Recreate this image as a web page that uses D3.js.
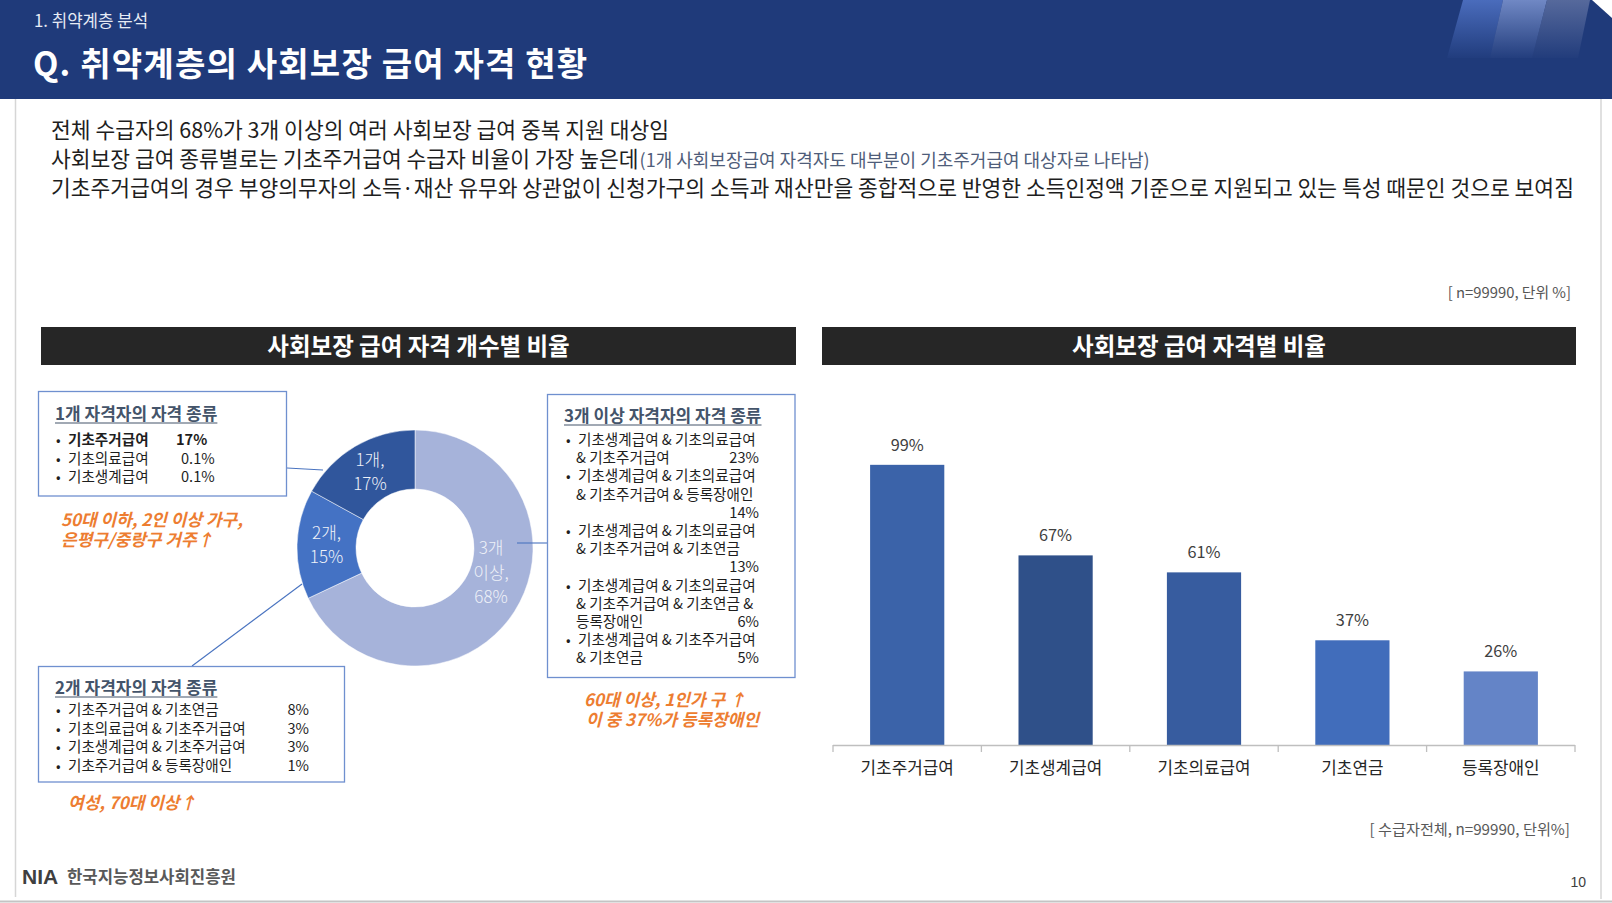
<!DOCTYPE html>
<html><head><meta charset="utf-8">
<script src="https://cdn.jsdelivr.net/npm/d3@7"></script>
<style>
body{margin:0;background:#fff;}
svg{display:block;font-family:"Noto Sans CJK KR","Noto Sans",sans-serif;}
</style></head><body>
<svg id="c" width="1612" height="903"></svg>
<script>
// ---------- data ----------
const donutLabels = ["3개 이상", "2개", "1개"];
const donutValues = [68, 15, 17];
const barCategories = ["기초주거급여", "기초생계급여", "기초의료급여", "기초연금", "등록장애인"];
const barValues = [99, 67, 61, 37, 26];
const oneItems = ["기초주거급여", "기초의료급여", "기초생계급여"];
const oneValues = ["17%", "0.1%", "0.1%"];
const twoItems = ["기초주거급여 & 기초연금", "기초의료급여 & 기초주거급여", "기초생계급여 & 기초주거급여", "기초주거급여 & 등록장애인"];
const twoValues = ["8%", "3%", "3%", "1%"];
const threeItems = [
  ["기초생계급여 & 기초의료급여", "& 기초주거급여"],
  ["기초생계급여 & 기초의료급여", "& 기초주거급여 & 등록장애인"],
  ["기초생계급여 & 기초의료급여", "& 기초주거급여 & 기초연금"],
  ["기초생계급여 & 기초의료급여", "& 기초주거급여 & 기초연금 &", "등록장애인"],
  ["기초생계급여 & 기초주거급여", "& 기초연금"]
];
const threeValues = ["23%", "14%", "13%", "6%", "5%"];
const bodyLines = [
  "전체 수급자의 68%가 3개 이상의 여러 사회보장 급여 중복 지원 대상임",
  "사회보장 급여 종류별로는 기초주거급여 수급자 비율이 가장 높은데",
  "기초주거급여의 경우 부양의무자의 소득·재산 유무와 상관없이 신청가구의 소득과 재산만을 종합적으로 반영한 소득인정액 기준으로 지원되고 있는 특성 때문인 것으로 보여짐"
];
const bodyNote = "(1개 사회보장급여 자격자도 대부분이 기초주거급여 대상자로 나타남)";

const svg = d3.select("#c");
const defs = svg.append("defs");

// ---------- header ----------
svg.append("rect").attr("x",0).attr("y",0).attr("width",1612).attr("height",99).attr("fill","#1f3a7a");
const stripes = [
  {pts:[[1463,0],[1503,0],[1490,58],[1447,58]], c:"#4a6cbc"},
  {pts:[[1503,0],[1547,0],[1532,58],[1490,58]], c:"#7088c4"},
  {pts:[[1547,0],[1590,0],[1578,58],[1532,58]], c:"#56699c"}
];
stripes.forEach((s,i)=>{
  const g = defs.append("linearGradient").attr("id","sg"+i).attr("x1",0).attr("y1",0).attr("x2",0).attr("y2",1);
  g.append("stop").attr("offset","0%").attr("stop-color",s.c).attr("stop-opacity",1);
  g.append("stop").attr("offset","100%").attr("stop-color",s.c).attr("stop-opacity",0.05);
  svg.append("polygon").attr("points",s.pts.map(p=>p.join(",")).join(" ")).attr("fill","url(#sg"+i+")");
});
svg.append("polygon").attr("points","1592,0 1612,0 1612,18").attr("fill","#fff");
svg.append("text").attr("x",34).attr("y",27).attr("fill","#e6ebf5").attr("font-size",16.8).text("1. 취약계층 분석");
svg.append("text").attr("x",33).attr("y",76).attr("fill","#fff").attr("font-size",33).attr("letter-spacing",1.2)
  .attr("font-weight",700).text("Q. 취약계층의 사회보장 급여 자격 현황");

// frame
svg.append("line").attr("x1",15.5).attr("x2",15.5).attr("y1",99).attr("y2",897).attr("stroke","#d6d6d6").attr("stroke-width",1.5);
svg.append("line").attr("x1",1601).attr("x2",1601).attr("y1",99).attr("y2",899).attr("stroke","#d6d6d6").attr("stroke-width",1.5);
svg.append("line").attr("x1",0).attr("x2",1612).attr("y1",901.5).attr("y2",901.5).attr("stroke","#c4c4c4").attr("stroke-width",2);

// ---------- body text ----------
const bodyY = [138, 167, 196];
bodyLines.forEach((t,i)=>{
  const tx = svg.append("text").attr("x",51).attr("y",bodyY[i]).attr("fill","#1e1e1e").attr("font-size",21.5).text(t);
  if(i===1){
    const w = tx.node().getComputedTextLength();
    svg.append("text").attr("x",51+w+1).attr("y",bodyY[i]).attr("fill","#4f5d7a").attr("font-size",18).text(bodyNote);
  }
});
svg.append("text").attr("x",1571).attr("y",298).attr("text-anchor","end").attr("fill","#555").attr("font-size",14.8).text("[ n=99990, 단위 %]");

// section headers
[[41,796,"사회보장 급여 자격 개수별 비율"],[822,1576,"사회보장 급여 자격별 비율"]].forEach(d=>{
  svg.append("rect").attr("x",d[0]).attr("y",327).attr("width",d[1]-d[0]).attr("height",38).attr("fill","#262626");
  svg.append("text").attr("x",(d[0]+d[1])/2).attr("y",355).attr("text-anchor","middle").attr("fill","#fff")
    .attr("font-size",23.5).attr("font-weight",700).text(d[2]);
});

// ---------- donut ----------
const cx = 415, cy = 548, rO = 118, rI = 59;
const donutColors = ["#a6b3da", "#4472c4", "#30569c"];
const pie = d3.pie().sort(null).value(d=>d)(donutValues);
const arc = d3.arc().innerRadius(rI).outerRadius(rO);
const dg = svg.append("g").attr("transform",`translate(${cx},${cy})`);
dg.selectAll("path").data(pie).join("path").attr("d",arc).attr("fill",(d,i)=>donutColors[i])
  .attr("stroke","#fff").attr("stroke-width",0.5);
pie.forEach((p,i)=>{
  let pos;
  if(i===0){ const a = 108*Math.PI/180, r = 80; pos=[r*Math.sin(a), -r*Math.cos(a)]; }
  else pos = arc.centroid(p);
  const parts = donutLabels[i].split(" ").map((w,j,arr)=> j===arr.length-1 ? w+"," : w);
  parts.push(donutValues[i]+"%");
  const lh = 24.3;
  const t = dg.append("text").attr("text-anchor","middle").attr("fill","#eef1f8").attr("font-size",17).attr("font-weight",300);
  parts.forEach((s,j)=>{
    t.append("tspan").attr("x",pos[0]).attr("y",pos[1] + (j-(parts.length-1)/2)*lh + 6).text(s);
  });
});

// connectors
const lc = "#4a74c0";
[[287,468,323,470],[192,666,302,584],[517,543,548,543]].forEach(l=>{
  svg.append("line").attr("x1",l[0]).attr("y1",l[1]).attr("x2",l[2]).attr("y2",l[3]).attr("stroke",lc).attr("stroke-width",1.1);
});

// boxes
function box(x0,y0,x1,y1){
  svg.append("rect").attr("x",x0).attr("y",y0).attr("width",x1-x0).attr("height",y1-y0)
    .attr("fill","#fff").attr("stroke","#6f90cf").attr("stroke-width",1.3);
}
function title(x,y,t){
  const tx = svg.append("text").attr("x",x).attr("y",y).attr("fill","#44546a").attr("font-size",17).attr("font-weight",700).text(t);
  const w = tx.node().getComputedTextLength();
  svg.append("line").attr("x1",x).attr("x2",x+w).attr("y1",y+3).attr("y2",y+3).attr("stroke","#44546a").attr("stroke-width",1.2);
}
const fs = 14.6, txtC = "#1e1e1e";
function bullet(x,y){ svg.append("text").attr("x",x).attr("y",y).attr("fill",txtC).attr("font-size",13.5).text("•"); }

// box 1
box(38.5,391.5,286.5,496);
title(55,420,"1개 자격자의 자격 종류");
oneItems.forEach((t,i)=>{
  const y = 445 + i*18.5, b = i===0 ? 700 : 400;
  bullet(56,y);
  svg.append("text").attr("x",68).attr("y",y).attr("fill",txtC).attr("font-size",fs).attr("font-weight",b).text(t);
  svg.append("text").attr("x", i===0 ? 176 : 181).attr("y",y).attr("fill",txtC).attr("font-size",fs).attr("font-weight",b).text(oneValues[i]);
});

// box 2
box(38.5,666.5,344.5,782);
title(55,694,"2개 자격자의 자격 종류");
twoItems.forEach((t,i)=>{
  const y = 715 + i*18.5;
  bullet(56,y);
  svg.append("text").attr("x",68).attr("y",y).attr("fill",txtC).attr("font-size",fs).text(t);
  svg.append("text").attr("x",309).attr("y",y).attr("text-anchor","end").attr("fill",txtC).attr("font-size",fs).text(twoValues[i]);
});

// box 3
box(547.5,394.5,795,677.5);
title(564,422,"3개 이상 자격자의 자격 종류");
let line = 0;
const lineY = k => 445 + k*18.2;
const valRight = 759;
threeItems.forEach((lines,i)=>{
  bullet(566,lineY(line));
  let lastW = 0;
  lines.forEach((t,j)=>{
    const tx = svg.append("text").attr("x",j===0?578:576).attr("y",lineY(line)).attr("fill",txtC).attr("font-size",fs).text(t);
    lastW = tx.node().getComputedTextLength();
    if(j<lines.length-1) line++;
  });
  const vt = svg.append("text").attr("text-anchor","end").attr("x",valRight).attr("fill",txtC).attr("font-size",fs).text(threeValues[i]);
  const vw = vt.node().getComputedTextLength();
  if(576 + lastW + 8 > valRight - vw) line++;
  vt.attr("y",lineY(line));
  line++;
});

// orange notes
const oc = "#ed7d31";
function note(x,y,lines,dx){
  const t = svg.append("text").attr("fill",oc).attr("font-size",17).attr("font-weight",700).attr("font-style","italic");
  lines.forEach((s,j)=>t.append("tspan").attr("x",x+(dx?dx[j]:0)).attr("y",y+j*20).text(s));
}
note(61,526,["50대 이하, 2인 이상 가구,","은평구/중랑구 거주↑"]);
note(68,809,["여성, 70대 이상↑"]);
note(584,706,["60대 이상, 1인가 구 ↑","이 중 37%가 등록장애인"],[0,2]);

// ---------- bar chart ----------
const x = d3.scaleBand().domain(barCategories).range([833,1575]).paddingInner(0.5).paddingOuter(0.25);
const y = d3.scaleLinear().domain([0,100]).range([745,462]);
const barColors = ["#3b63a9","#2f5089","#375c9f","#416dbb","#6484c7"];
svg.append("g").selectAll("rect").data(barValues).join("rect")
  .attr("x",(d,i)=>x(barCategories[i])).attr("width",x.bandwidth())
  .attr("y",d=>y(d)).attr("height",d=>y(0)-y(d)).attr("fill",(d,i)=>barColors[i]);
svg.append("g").selectAll("text").data(barValues).join("text")
  .attr("x",(d,i)=>x(barCategories[i])+x.bandwidth()/2).attr("y",d=>y(d)-14)
  .attr("text-anchor","middle").attr("fill","#404040").attr("font-size",16.3).text(d=>d+"%");
const ax = svg.append("g").attr("transform","translate(0,745)")
  .call(d3.axisBottom(x).tickSize(0).tickPadding(17));
ax.select(".domain").remove();
ax.selectAll("text").attr("font-size",16.9).attr("fill","#262626").attr("font-family",'"Noto Sans CJK KR",sans-serif');
svg.append("line").attr("x1",833).attr("x2",1575).attr("y1",745.5).attr("y2",745.5).attr("stroke","#bfbfbf").attr("stroke-width",1.3);
const bounds = barCategories.map(c=>x(c)-x.step()*x.paddingInner()/2).concat([1575]);
svg.append("g").selectAll("line").data(bounds).join("line")
  .attr("x1",d=>d).attr("x2",d=>d).attr("y1",745).attr("y2",752).attr("stroke","#bfbfbf").attr("stroke-width",1.3);
svg.append("text").attr("x",1570).attr("y",835).attr("text-anchor","end").attr("fill","#595959").attr("font-size",15.2).text("[ 수급자전체,  n=99990, 단위%]");

// ---------- footer ----------
svg.append("text").attr("x",22).attr("y",884).attr("fill","#3f3f3f").attr("font-size",21).attr("font-weight",700)
  .attr("font-family","'Liberation Sans',Arial,sans-serif").text("NIA");
svg.append("text").attr("x",67).attr("y",883).attr("fill","#595959").attr("font-size",16.7).attr("font-weight",700).text("한국지능정보사회진흥원");
svg.append("text").attr("x",1586).attr("y",887).attr("text-anchor","end").attr("fill","#404040").attr("font-size",14)
  .attr("font-family","'Liberation Sans',Arial,sans-serif").text("10");
</script>
</body></html>
